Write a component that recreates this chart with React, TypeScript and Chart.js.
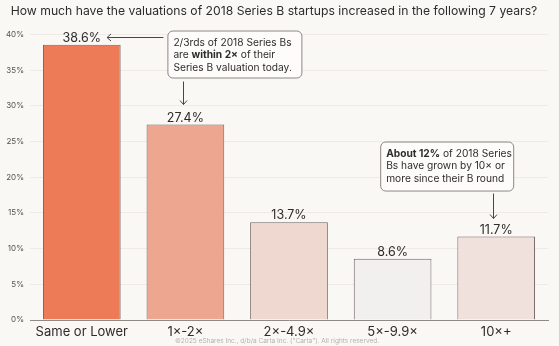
import React, { useEffect, useRef } from "react";
import { Chart, registerables } from "chart.js";

Chart.register(...registerables);

const categories = ["Same or Lower", "1×-2×", "2×-4.9×", "5×-9.9×", "10×+"];
const shares = [38.6, 27.4, 13.7, 8.6, 11.7];
const barColors = ["#ee7b58", "#eda690", "#eed8d0", "#f1f0ef", "#f0e1dd"];
const yMax = 40;
const yStep = 5;
const titleText = "How much have the valuations of 2018 Series B startups increased in the following 7 years?";
const footerText = "©2025 eShares Inc., d/b/a Carta Inc. (\"Carta\"). All rights reserved.";
const noteA = [
  [{ t: "2/3rds of 2018 Series Bs", b: false }],
  [{ t: "are ", b: false }, { t: "within 2×", b: true }, { t: " of their", b: false }],
  [{ t: "Series B valuation today.", b: false }],
];
const noteB = [
  [{ t: "About 12%", b: true }, { t: " of 2018 Series", b: false }],
  [{ t: "Bs have grown by 10× or", b: false }],
  [{ t: "more since their B round", b: false }],
];

const FONT = "Inter, 'Noto Sans', sans-serif";
const BG = "#faf8f5";
const INK = "#2e2c2b";

function arrowHead(ctx: CanvasRenderingContext2D, x: number, y: number, dir: "left" | "down") {
  ctx.beginPath();
  if (dir === "left") {
    ctx.moveTo(x + 4, y - 3.5);
    ctx.lineTo(x, y);
    ctx.lineTo(x + 4, y + 3.5);
  } else {
    ctx.moveTo(x - 3.5, y - 4);
    ctx.lineTo(x, y);
    ctx.lineTo(x + 3.5, y - 4);
  }
  ctx.stroke();
}

function drawNote(ctx: CanvasRenderingContext2D, lines: { t: string; b: boolean }[][], x: number, y: number, w: number, h: number) {
  ctx.save();
  ctx.beginPath();
  ctx.roundRect(x + 0.5, y + 0.5, w, h, 5);
  ctx.fillStyle = "#fdfcfb";
  ctx.fill();
  ctx.strokeStyle = "#8c8783";
  ctx.lineWidth = 1;
  ctx.stroke();
  ctx.fillStyle = INK;
  ctx.textBaseline = "middle";
  ctx.textAlign = "left";
  lines.forEach((line, i) => {
    let cx = x + 6;
    const cy = y + 12 + i * 12.5;
    line.forEach((seg) => {
      ctx.font = `${seg.b ? 700 : 400} 10.2px ${FONT}`;
      ctx.fillText(seg.t, cx, cy);
      cx += ctx.measureText(seg.t).width;
    });
  });
  ctx.restore();
}

const overlayPlugin = {
  id: "overlay",
  beforeDraw(chart: any) {
    const ctx = chart.ctx;
    ctx.save();
    ctx.fillStyle = BG;
    ctx.fillRect(0, 0, chart.width, chart.height);
    ctx.restore();
  },
  afterDatasetsDraw(chart: any) {
    const ctx: CanvasRenderingContext2D = chart.ctx;
    const bars = chart.getDatasetMeta(0).data;
    ctx.save();
    // value labels
    ctx.font = `400 12.5px ${FONT}`;
    ctx.fillStyle = INK;
    ctx.textAlign = "center";
    ctx.textBaseline = "alphabetic";
    const labelRights: number[] = [];
    bars.forEach((bar: any, i: number) => {
      const txt = shares[i].toFixed(1) + "%";
      ctx.fillText(txt, bar.x, bar.y - 3);
      labelRights.push(bar.x + ctx.measureText(txt).width / 2);
    });
    ctx.strokeStyle = "#4a4645";
    ctx.lineWidth = 1;

    // note A (anchored to bar 2, pointing at bar 1 and bar 2)
    const b1 = bars[0];
    const b2 = bars[1];
    const aW = 134, aH = 47;
    const aX = b2.x - 18;
    const aY = b2.y - 47 - aH;
    drawNote(ctx, noteA, aX, aY, aW, aH);
    const ly = Math.round(b1.y - 8) + 0.5;
    ctx.beginPath();
    ctx.moveTo(aX - 4, ly);
    ctx.lineTo(labelRights[0] + 6, ly);
    ctx.stroke();
    arrowHead(ctx, labelRights[0] + 6, ly, "left");
    const ax2 = Math.round(b2.x - 2) + 0.5;
    ctx.beginPath();
    ctx.moveTo(ax2, aY + aH + 4);
    ctx.lineTo(ax2, b2.y - 20);
    ctx.stroke();
    arrowHead(ctx, ax2, b2.y - 20, "down");

    // note B (anchored to bar 5)
    const b5 = bars[4];
    const bW = 133, bH = 49;
    const bX = b5.x - 116;
    const bY = b5.y - 46 - bH;
    drawNote(ctx, noteB, bX, bY, bW, bH);
    const ax5 = Math.round(b5.x - 3) + 0.5;
    ctx.beginPath();
    ctx.moveTo(ax5, bY + bH + 3);
    ctx.lineTo(ax5, b5.y - 18);
    ctx.stroke();
    arrowHead(ctx, ax5, b5.y - 18, "down");

    // footer
    ctx.font = `400 6.5px ${FONT}`;
    ctx.fillStyle = "#b5b1ad";
    ctx.textAlign = "center";
    ctx.textBaseline = "middle";
    ctx.fillText(footerText, 277, 341);
    ctx.restore();
  },
};

export default function App() {
  const ref = useRef<HTMLCanvasElement | null>(null);
  useEffect(() => {
    document.body.style.margin = "0";
    document.body.style.background = BG;
    if (!ref.current) return;
    const chart = new Chart(ref.current, {
      type: "bar",
      data: {
        labels: categories,
        datasets: [
          {
            data: shares,
            backgroundColor: barColors,
            borderColor: "#6e6561",
            borderWidth: 1,
            borderSkipped: "bottom",
            barPercentage: 0.75,
            categoryPercentage: 1,
          },
        ],
      },
      options: {
        animation: false,
        responsive: false,
        layout: { padding: { left: 0, right: 11, top: 0, bottom: 0 } },
        plugins: {
          legend: { display: false },
          tooltip: { enabled: false },
          title: {
            display: true,
            text: titleText,
            color: INK,
            font: { family: FONT, size: 12.2, weight: "normal" as any },
            padding: { top: 4, bottom: 16 },
          },
        },
        scales: {
          x: {
            grid: { display: false, drawTicks: false },
            border: { display: true, color: "#8f8a86", width: 1 },
            ticks: { color: INK, font: { family: FONT, size: 13 }, padding: 4, maxRotation: 0 },
            afterFit: (s: any) => { s.height = 26; },
          },
          y: {
            min: 0,
            max: yMax,
            grid: { color: "#eeebe6", drawTicks: false },
            border: { display: false },
            ticks: {
              stepSize: yStep,
              color: "#555250",
              font: { family: FONT, size: 8 },
              padding: 6,
              callback: (v: any) => v + "%",
            },
            afterFit: (s: any) => { s.width = 30; },
          },
        },
      },
      plugins: [overlayPlugin],
    });
    return () => chart.destroy();
  }, []);
  return (
    <div style={{ position: "fixed", left: 0, top: 0, width: 559, height: 346 }}>
      <canvas ref={ref} width={559} height={346} style={{ width: 559, height: 346, display: "block" }} />
    </div>
  );
}
